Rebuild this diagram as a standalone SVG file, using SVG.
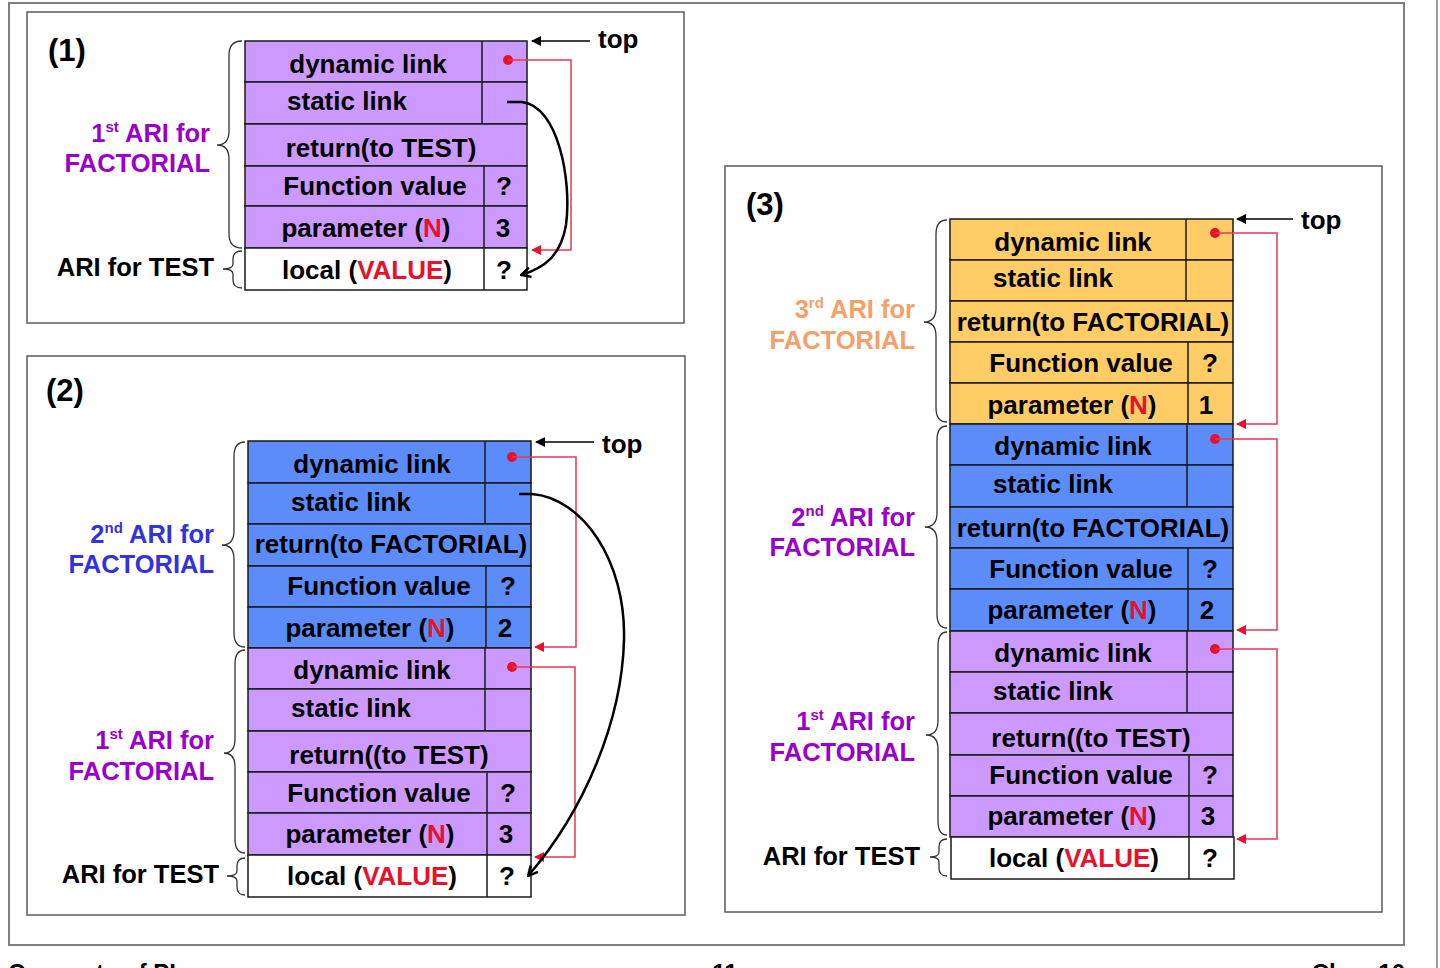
<svg xmlns="http://www.w3.org/2000/svg" width="1440" height="968" viewBox="0 0 1440 968">
<defs>
<style>
.t{font-family:"Liberation Sans",Arial,sans-serif;font-weight:bold;font-size:26px;fill:#000}
.m{text-anchor:middle}
.lbl{font-size:25.5px;text-anchor:end}
.red{fill:#E8112D}
.cell{stroke:#1a1a1a;stroke-width:1.5}
.p{fill:#CC99FF}.b{fill:#5B8CFA}.o{fill:#FFCC66}.w{fill:#fff}
.dv{stroke:#1a1a1a;stroke-width:1.5}
.frame{fill:none;stroke:#5a5a5a;stroke-width:1.5}
.brace{fill:none;stroke:#333;stroke-width:1.3}
.rl{fill:none;stroke:#E8384F;stroke-width:1.5;marker-end:url(#ra)}
.tl{fill:none;stroke:#000;stroke-width:1.5;marker-end:url(#ka)}
.cl{fill:none;stroke:#000;stroke-width:2.5;marker-end:url(#oa)}
.dot{fill:#E8112D}
.pl{fill:#9900CC}.bl{fill:#3333DD}.ol{fill:#F4A06A}
</style>
<marker id="ra" viewBox="0 0 10 10" refX="9" refY="5" markerWidth="12" markerHeight="10" markerUnits="userSpaceOnUse" orient="auto"><path d="M0,0 L10,5 L0,10 z" fill="#E8112D"/></marker>
<marker id="ka" viewBox="0 0 10 10" refX="9" refY="5" markerWidth="12" markerHeight="10" markerUnits="userSpaceOnUse" orient="auto"><path d="M0,0 L10,5 L0,10 z" fill="#000"/></marker>
<marker id="oa" viewBox="0 0 10 10" refX="9" refY="5" markerWidth="12" markerHeight="12" markerUnits="userSpaceOnUse" orient="auto"><path d="M1,1 L9,5 L1,9" fill="none" stroke="#000" stroke-width="2"/></marker>
</defs>
<rect width="1440" height="968" fill="#fff"/>
<rect x="9" y="3" width="1395" height="942" fill="none" stroke="#7f7f7f" stroke-width="2"/>
<line x1="1437" y1="0" x2="1437" y2="968" stroke="#7f7f7f" stroke-width="1.5"/>

<!-- Panel 1 -->
<g id="panel1">
<rect class="frame" x="27" y="12" width="657" height="311"/>
<text class="t" x="48" y="61" style="font-size:31px">(1)</text>
<text class="t" x="598" y="48">top</text>
</g>
<g id="p1-ari1">
<rect class="cell p" x="245" y="41" width="282" height="41"/>
<rect class="cell p" x="245" y="82" width="282" height="42"/>
<rect class="cell p" x="245" y="124" width="282" height="42"/>
<rect class="cell p" x="245" y="166" width="282" height="40"/>
<rect class="cell p" x="245" y="206" width="282" height="42"/>
<line class="dv" x1="482" y1="41" x2="482" y2="124"/>
<line class="dv" x1="484" y1="166" x2="484" y2="248"/>
<text class="t m" x="368" y="73">dynamic link</text>
<text class="t m" x="347" y="110">static link</text>
<text class="t m" x="381" y="157">return(to TEST)</text>
<text class="t m" x="375" y="195">Function value</text>
<text class="t m" x="366" y="237">parameter (<tspan class="red">N</tspan>)</text>
<text class="t m" x="504" y="195">?</text>
<text class="t m" x="503" y="237">3</text>
<path class="brace" d="M242,41 Q229,41 229,55 L229,131 Q229,145 217,145 Q229,145 229,159 L229,234 Q229,248 242,248"/>
<text class="t lbl pl" x="210" y="142">1<tspan dy="-10" style="font-size:15px">st</tspan><tspan dy="10"> ARI for</tspan></text>
<text class="t lbl pl" x="210" y="172">FACTORIAL</text>
</g>
<g id="p1-test">
<rect class="cell w" x="245" y="248" width="282" height="42"/>
<line class="dv" x1="484" y1="248" x2="484" y2="290"/>
<text class="t m" x="367" y="279">local (<tspan class="red">VALUE</tspan>)</text>
<text class="t m" x="504" y="279">?</text>
<path class="brace" d="M242,251 Q233,251 233,259 L233,264 Q233,269 223,269 Q233,269 233,274 L233,280 Q233,288 242,288"/>
<text class="t lbl" x="214" y="276">ARI for TEST</text>
</g>

<!-- Panel 2 -->
<g id="panel2">
<rect class="frame" x="27" y="356" width="658" height="559"/>
<text class="t" x="46" y="401" style="font-size:31px">(2)</text>
<text class="t" x="602" y="453">top</text>
</g>
<g id="p2-ari2">
<rect class="cell b" x="248" y="441" width="283" height="42"/>
<rect class="cell b" x="248" y="483" width="283" height="41"/>
<rect class="cell b" x="248" y="524" width="283" height="42"/>
<rect class="cell b" x="248" y="566" width="283" height="41"/>
<rect class="cell b" x="248" y="607" width="283" height="41"/>
<line class="dv" x1="485" y1="441" x2="485" y2="524"/>
<line class="dv" x1="486" y1="566" x2="486" y2="648"/>
<text class="t m" x="372" y="473">dynamic link</text>
<text class="t m" x="351" y="511">static link</text>
<text class="t m" x="391" y="553">return(to FACTORIAL)</text>
<text class="t m" x="379" y="595">Function value</text>
<text class="t m" x="370" y="637">parameter (<tspan class="red">N</tspan>)</text>
<text class="t m" x="508" y="595">?</text>
<text class="t m" x="505" y="637">2</text>
<path class="brace" d="M245,442 Q234,442 234,456 L234,531 Q234,545 222,545 Q234,545 234,559 L234,633 Q234,647 245,647"/>
<text class="t lbl bl" x="214" y="543">2<tspan dy="-10" style="font-size:15px">nd</tspan><tspan dy="10"> ARI for</tspan></text>
<text class="t lbl bl" x="214" y="573">FACTORIAL</text>
</g>
<g id="p2-ari1">
<rect class="cell p" x="248" y="648" width="283" height="41"/>
<rect class="cell p" x="248" y="689" width="283" height="42"/>
<rect class="cell p" x="248" y="731" width="283" height="41"/>
<rect class="cell p" x="248" y="772" width="283" height="41"/>
<rect class="cell p" x="248" y="813" width="283" height="42"/>
<line class="dv" x1="485" y1="648" x2="485" y2="731"/>
<line class="dv" x1="487" y1="772" x2="487" y2="855"/>
<text class="t m" x="372" y="679">dynamic link</text>
<text class="t m" x="351" y="717">static link</text>
<text class="t m" x="389" y="764">return((to TEST)</text>
<text class="t m" x="379" y="802">Function value</text>
<text class="t m" x="370" y="843">parameter (<tspan class="red">N</tspan>)</text>
<text class="t m" x="508" y="802">?</text>
<text class="t m" x="506" y="843">3</text>
<path class="brace" d="M245,650 Q235,650 235,664 L235,739 Q235,753 224,753 Q235,753 235,767 L235,839 Q235,853 245,853"/>
<text class="t lbl pl" x="214" y="749">1<tspan dy="-10" style="font-size:15px">st</tspan><tspan dy="10"> ARI for</tspan></text>
<text class="t lbl pl" x="214" y="780">FACTORIAL</text>
</g>
<g id="p2-test">
<rect class="cell w" x="248" y="855" width="283" height="42"/>
<line class="dv" x1="487" y1="855" x2="487" y2="897"/>
<text class="t m" x="372" y="885">local (<tspan class="red">VALUE</tspan>)</text>
<text class="t m" x="507" y="885">?</text>
<path class="brace" d="M245,858 Q237,858 237,866 L237,871 Q237,876 227,876 Q237,876 237,881 L237,887 Q237,895 245,895"/>
<text class="t lbl" x="219" y="883">ARI for TEST</text>
</g>

<!-- Panel 3 -->
<g id="panel3">
<rect class="frame" x="725" y="166" width="657" height="746"/>
<text class="t" x="746" y="215" style="font-size:31px">(3)</text>
<text class="t" x="1301" y="229">top</text>
</g>
<g id="p3-ari3">
<rect class="cell o" x="950" y="219" width="283" height="41"/>
<rect class="cell o" x="950" y="260" width="283" height="41"/>
<rect class="cell o" x="950" y="301" width="283" height="41"/>
<rect class="cell o" x="950" y="342" width="283" height="41"/>
<rect class="cell o" x="950" y="383" width="283" height="41"/>
<line class="dv" x1="1186" y1="219" x2="1186" y2="301"/>
<line class="dv" x1="1188" y1="342" x2="1188" y2="424"/>
<text class="t m" x="1073" y="251">dynamic link</text>
<text class="t m" x="1053" y="287">static link</text>
<text class="t m" x="1093" y="331">return(to FACTORIAL)</text>
<text class="t m" x="1081" y="372">Function value</text>
<text class="t m" x="1072" y="414">parameter (<tspan class="red">N</tspan>)</text>
<text class="t m" x="1210" y="372">?</text>
<text class="t m" x="1206" y="414">1</text>
<path class="brace" d="M947,220 Q936,220 936,234 L936,308 Q936,322 924,322 Q936,322 936,336 L936,408 Q936,422 947,422"/>
<text class="t lbl ol" x="915" y="318">3<tspan dy="-10" style="font-size:15px">rd</tspan><tspan dy="10"> ARI for</tspan></text>
<text class="t lbl ol" x="915" y="349">FACTORIAL</text>
</g>
<g id="p3-ari2">
<rect class="cell b" x="950" y="424" width="283" height="41"/>
<rect class="cell b" x="950" y="465" width="283" height="42"/>
<rect class="cell b" x="950" y="507" width="283" height="41"/>
<rect class="cell b" x="950" y="548" width="283" height="41"/>
<rect class="cell b" x="950" y="589" width="283" height="42"/>
<line class="dv" x1="1187" y1="424" x2="1187" y2="507"/>
<line class="dv" x1="1188" y1="548" x2="1188" y2="631"/>
<text class="t m" x="1073" y="455">dynamic link</text>
<text class="t m" x="1053" y="493">static link</text>
<text class="t m" x="1093" y="537">return(to FACTORIAL)</text>
<text class="t m" x="1081" y="578">Function value</text>
<text class="t m" x="1072" y="619">parameter (<tspan class="red">N</tspan>)</text>
<text class="t m" x="1210" y="578">?</text>
<text class="t m" x="1207" y="619">2</text>
<path class="brace" d="M947,426 Q937,426 937,440 L937,513 Q937,527 925,527 Q937,527 937,541 L937,614 Q937,628 947,628"/>
<text class="t lbl pl" x="915" y="526">2<tspan dy="-10" style="font-size:15px">nd</tspan><tspan dy="10"> ARI for</tspan></text>
<text class="t lbl pl" x="915" y="556">FACTORIAL</text>
</g>
<g id="p3-ari1">
<rect class="cell p" x="950" y="631" width="283" height="41"/>
<rect class="cell p" x="950" y="672" width="283" height="41"/>
<rect class="cell p" x="950" y="713" width="283" height="42"/>
<rect class="cell p" x="950" y="755" width="283" height="41"/>
<rect class="cell p" x="950" y="796" width="283" height="41"/>
<line class="dv" x1="1187" y1="631" x2="1187" y2="713"/>
<line class="dv" x1="1189" y1="755" x2="1189" y2="837"/>
<text class="t m" x="1073" y="662">dynamic link</text>
<text class="t m" x="1053" y="700">static link</text>
<text class="t m" x="1091" y="747">return((to TEST)</text>
<text class="t m" x="1081" y="784">Function value</text>
<text class="t m" x="1072" y="825">parameter (<tspan class="red">N</tspan>)</text>
<text class="t m" x="1210" y="784">?</text>
<text class="t m" x="1208" y="825">3</text>
<path class="brace" d="M947,632 Q938,632 938,646 L938,721 Q938,735 926,735 Q938,735 938,749 L938,821 Q938,835 947,835"/>
<text class="t lbl pl" x="915" y="730">1<tspan dy="-10" style="font-size:15px">st</tspan><tspan dy="10"> ARI for</tspan></text>
<text class="t lbl pl" x="915" y="761">FACTORIAL</text>
</g>
<g id="p3-test">
<rect class="cell w" x="951" y="837" width="283" height="42"/>
<line class="dv" x1="1189" y1="837" x2="1189" y2="879"/>
<text class="t m" x="1074" y="867">local (<tspan class="red">VALUE</tspan>)</text>
<text class="t m" x="1210" y="867">?</text>
<path class="brace" d="M947,839 Q939,839 939,847 L939,852 Q939,857 930,857 Q939,857 939,862 L939,868 Q939,876 947,876"/>
<text class="t lbl" x="920" y="865">ARI for TEST</text>
</g>

<!-- Connectors -->
<g id="connectors">
<line class="tl" x1="590" y1="41" x2="532" y2="41"/>
<line class="tl" x1="594" y1="442" x2="536" y2="442"/>
<line class="tl" x1="1293" y1="219" x2="1237" y2="219"/>
<circle class="dot" cx="508" cy="60" r="5"/>
<path class="rl" d="M508,60 H571 V250 H532"/>
<circle class="dot" cx="512" cy="457" r="5"/>
<path class="rl" d="M512,457 H576 V647 H535"/>
<circle class="dot" cx="512" cy="667" r="5"/>
<path class="rl" d="M512,667 H575 V857 H535"/>
<circle class="dot" cx="1215" cy="233" r="5"/>
<path class="rl" d="M1215,233 H1277 V424 H1237"/>
<circle class="dot" cx="1215" cy="439" r="5"/>
<path class="rl" d="M1215,439 H1277 V630 H1237"/>
<circle class="dot" cx="1215" cy="649" r="5"/>
<path class="rl" d="M1215,649 H1277 V839 H1237"/>
<path class="cl" d="M507,102 L522,102 C558,106 572,180 566,225 C561,255 545,268 521,275"/>
<path class="cl" d="M519,494 L532,494 C582,498 626,560 624,640 C622,720 585,810 528,876"/>
</g>

<!-- Footer -->
<text class="t" x="8" y="981" style="font-size:24px">Concepts of PL</text>
<text class="t m" x="725" y="981" style="font-size:24px">11</text>
<text class="t" x="1405" y="981" style="font-size:24px;text-anchor:end">Chap 10</text>
</svg>
